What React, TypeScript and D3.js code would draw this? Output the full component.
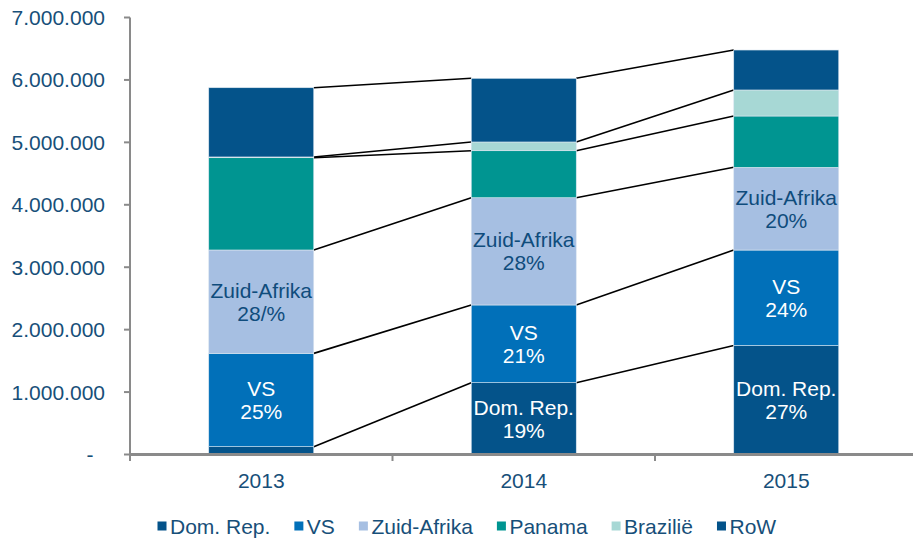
import React, { useMemo } from "react";
import * as d3 from "d3";

const years = ["2013", "2014", "2015"];
const seriesNames = ["Dom. Rep.", "VS", "Zuid-Afrika", "Panama", "Brazilië", "RoW"];
const domRep = [125000, 1150000, 1745000];
const vs = [1495000, 1245000, 1530000];
const zuidAfrika = [1656000, 1718000, 1325000];
const panama = [1478000, 753000, 822000];
const brazilie = [12000, 140000, 417000];
const row = [1109000, 1020000, 640000];
const yTicks = [0, 1000000, 2000000, 3000000, 4000000, 5000000, 6000000, 7000000];
// in-bar labels: [seriesIndex, yearIndex, lines]
const labels: [number, number, string[]][] = [
  [1, 0, ["VS", "25%"]],
  [2, 0, ["Zuid-Afrika", "28/%"]],
  [0, 1, ["Dom. Rep.", "19%"]],
  [1, 1, ["VS", "21%"]],
  [2, 1, ["Zuid-Afrika", "28%"]],
  [0, 2, ["Dom. Rep.", "27%"]],
  [1, 2, ["VS", "24%"]],
  [2, 2, ["Zuid-Afrika", "20%"]],
];

const colors = ["#04538a", "#0170b9", "#a6bfe2", "#009591", "#a7d8d5", "#04538a"];
const labelColors = ["#ffffff", "#ffffff", "#0f4c7c"];
const textColor = "#174f79";
const FONT = "'Liberation Sans', Arial, sans-serif";

const W = 913;
const H = 539;
const left = 130;
const bandRight = 917.5;
const top = 17.5;
const bottom = 454.5;

export default function App() {
  const values = [domRep, vs, zuidAfrika, panama, brazilie, row];
  const table = years.map((y, i) => {
    const o: any = { year: y };
    seriesNames.forEach((s, k) => (o[s] = values[k][i]));
    return o;
  });
  const stacked = d3.stack<any>().keys(seriesNames)(table);

  const x = d3.scaleBand().domain(years).range([left, bandRight]).paddingInner(0.6).paddingOuter(0.3);
  const xb = d3.scaleBand().domain(years).range([left, bandRight]);
  const y = d3.scaleLinear().domain([0, 7000000]).range([bottom, top]);
  const fmt = (v: number) => (v === 0 ? "-" : d3.format(",")(v).replace(/,/g, "."));

  const legendItems = useMemo(() => {
    const c = document.createElement("canvas").getContext("2d")!;
    c.font = "21px 'Liberation Sans'";
    let cx = 157.5;
    return seriesNames.map((n, i) => {
      const w = c.measureText(n).width;
      const item = { n, x: cx, color: colors[i] };
      cx += 9 + 3.5 + w + 24;
      return item;
    });
  }, []);

  const bw = x.bandwidth();

  return (
    <svg width={W} height={H} style={{ position: "absolute", left: 0, top: 0, background: "#fff" }} fontFamily={FONT}>
      {/* connector lines */}
      {stacked.map((s, k) =>
        years.slice(0, -1).map((yr, i) => (
          <line
            key={`c${k}-${i}`}
            x1={x(yr)! + bw}
            x2={x(years[i + 1])!}
            y1={y(s[i][1])}
            y2={y(s[i + 1][1])}
            stroke="#000"
            strokeWidth={1.6}
          />
        ))
      )}
      {/* bars */}
      {stacked.map((s, k) =>
        s.map((d, i) => (
          <rect
            key={`b${k}-${i}`}
            x={x(years[i])}
            y={y(d[1])}
            width={bw}
            height={y(d[0]) - y(d[1])}
            fill={colors[k]}
            stroke="#dbe6f0"
            strokeWidth={0.6}
          />
        ))
      )}
      {/* labels */}
      {labels.map(([k, i, lines], j) => {
        const d = stacked[k][i];
        const cy = (y(d[0]) + y(d[1])) / 2;
        const cx = x(years[i])! + bw / 2;
        return (
          <text key={`l${j}`} x={cx} textAnchor="middle" fontSize={21} fill={labelColors[k]}>
            {lines.map((t, m) => (
              <tspan key={m} x={cx} y={cy + (m - (lines.length - 1) / 2) * 23 + 7.5}>
                {t}
              </tspan>
            ))}
          </text>
        );
      })}
      {/* y axis */}
      <line x1={left} x2={left} y1={top} y2={bottom + 6} stroke="#8a8a8a" strokeWidth={2} />
      {yTicks.map((t) => (
        <g key={`t${t}`}>
          <line x1={left - 6} x2={left} y1={y(t)} y2={y(t)} stroke="#8a8a8a" strokeWidth={2} />
          <text
            x={t === 0 ? 93.5 : 105}
            y={y(t) + 7.5}
            textAnchor="end"
            fontSize={21}
            fill={textColor}
          >
            {fmt(t)}
          </text>
        </g>
      ))}
      {/* x axis */}
      <line x1={left} x2={W} y1={bottom} y2={bottom} stroke="#8a8a8a" strokeWidth={3} />
      {years.map((yr) => (
        <line key={`xt${yr}`} x1={xb(yr)!} x2={xb(yr)!} y1={bottom} y2={bottom + 6.5} stroke="#8a8a8a" strokeWidth={2} />
      ))}
      {years.map((yr) => (
        <text key={`xl${yr}`} x={x(yr)! + bw / 2} y={488} textAnchor="middle" fontSize={21} fill={textColor}>
          {yr}
        </text>
      ))}
      {/* legend */}
      {legendItems.map((it) => (
        <g key={`lg${it.n}`}>
          <rect x={it.x} y={521.5} width={9} height={9} fill={it.color} />
          <text x={it.x + 12.5} y={533.5} fontSize={21} fill={textColor}>
            {it.n}
          </text>
        </g>
      ))}
    </svg>
  );
}
